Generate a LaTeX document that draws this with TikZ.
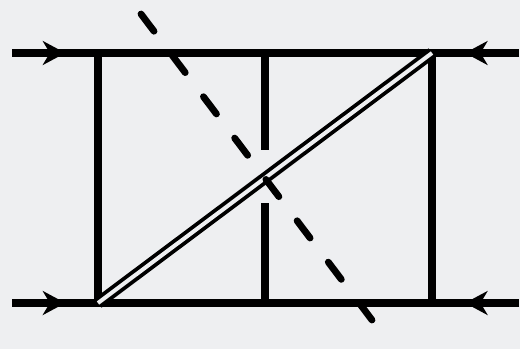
\documentclass[tikz,border=0pt]{standalone}
\usetikzlibrary{arrows.meta,decorations.markings}
\definecolor{paper}{RGB}{238,239,241}
\tikzset{
  fermion line/.style={
    line width=0.19cm, black,
    postaction={decorate},
    decoration={markings,
      mark=at position #1 with {\arrow{Stealth[length=16pt,width=17pt,inset=5pt]}}}
  },
  fermion line/.default=0.62,
  rung line/.style={line width=0.19cm, black},
  composite line/.style={line width=0.095cm, black, double=paper, double distance=0.1cm},
  cut line/.style={line width=0.17cm, black, line cap=round,
    dash pattern=on 0.54cm off 0.755cm}
}

\begin{document}
\begin{tikzpicture}[x=0.025cm, y=-0.025cm]
  \fill[paper] (0,0) rectangle (520,349);
  \useasboundingbox (0,0) rectangle (520,349);
  % external legs
  \coordinate (in1) at (12,53);
  \coordinate (in2) at (12,303);
  \coordinate (out1) at (519,53);
  \coordinate (out2) at (519,303);
  % vertices
  \coordinate (a1) at (98,53);  \coordinate (a2) at (98,303);
  \coordinate (b1) at (265,53); \coordinate (b2) at (265,303);
  \coordinate (c1) at (432,53); \coordinate (c2) at (432,303);
  \coordinate (b-up) at (265,150);
  \coordinate (b-dn) at (265,203);
  % cut
  \coordinate (cut-start) at (141,14);
  \coordinate (cut-end) at (372,320);

  \draw[fermion line] (in1) -- (a1);
  \draw[fermion line] (in2) -- (a2);
  \draw[fermion line] (out1) -- (c1);
  \draw[fermion line] (out2) -- (c2);
  \draw[rung line] (a1) -- (c1) (a2) -- (c2);
  \draw[rung line] (a1) -- (a2) (c1) -- (c2);
  \draw[rung line] (b1) -- (b-up) (b-dn) -- (b2);
  \draw[composite line] (a2) -- (c1);
  \draw[cut line] (cut-start) -- (cut-end);
\end{tikzpicture}
\end{document}
